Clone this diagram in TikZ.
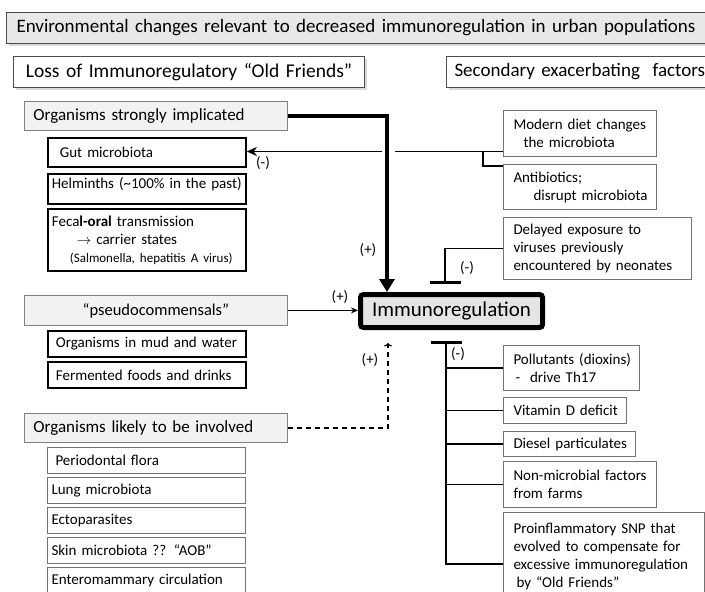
\documentclass[tikz,border=0pt]{standalone}
\usepackage{fontspec}
\setmainfont{Carlito}
\usetikzlibrary{arrows.meta,shadows}
\begin{document}
\hyphenpenalty=10000
\exhyphenpenalty=10000
\begin{tikzpicture}[x=1pt,y=-1pt,
  base/.style={anchor=north west, inner ysep=0pt, align=left, font=\fontsize{15}{18}\selectfont},
  thickbox/.style={base, draw=black, line width=1.8pt, fill=white},
  thinbox/.style={base, draw=black!55, line width=1pt, fill=white},
  graybox/.style={base, draw=black!50, line width=0.8pt, fill=black!5, font=\fontsize{17}{20}\selectfont},
  headbox/.style={base, draw=black!70, line width=1pt, font=\fontsize{19}{22}\selectfont,
    drop shadow={shadow xshift=2pt, shadow yshift=-2pt, opacity=0.3}},
  conn/.style={line width=1.4pt},
  lbl/.style={font=\fontsize{15}{18}\selectfont, inner sep=0pt},
]
\useasboundingbox (0,0) rectangle (705,592);

% headers
\node[headbox, fill=black!9, minimum width=740pt, minimum height=31pt, inner xsep=10pt, text width=720pt] (title) at (6,12)
  {Environmental changes relevant to decreased immunoregulation in urban populations};
\node[headbox, fill=white, align=center, font=\fontsize{19.5}{22}\selectfont, minimum width=351pt, minimum height=31pt, inner xsep=6pt, text width=339pt] (loss) at (13,56)
  {Loss of Immunoregulatory “Old Friends”};
\node[headbox, fill=white, minimum width=300pt, minimum height=31pt, inner xsep=8pt, text width=284pt] (second) at (446,56)
  {Secondary exacerbating~~factors};

% left column
\node[graybox, minimum width=263pt, minimum height=29pt, inner xsep=9pt, text width=245pt] (strong) at (24,101)
  {Organisms strongly implicated};
\node[thickbox, minimum width=198pt, minimum height=29pt, inner xsep=12pt, text width=174pt] (gut) at (47,137)
  {Gut microbiota};
\node[thickbox, minimum width=198pt, minimum height=30pt, inner xsep=4pt, text width=190pt, text height=11pt, text depth=11pt] (helm) at (47,173)
  {Helminths (\textasciitilde100\% in the past)};
\node[thickbox, minimum width=198pt, minimum height=62pt, inner xsep=4pt, text width=190pt] (fecal) at (47,208)
  {Feca\textbf{l-oral} transmission\\
   \hspace*{25pt}$\rightarrow$ carrier states\\
   {\fontsize{13}{18}\selectfont\hspace*{18pt}(Salmonella, hepatitis A virus)}};

\node[graybox, align=center, font=\fontsize{16.5}{20}\selectfont, minimum width=263pt, minimum height=30pt, inner xsep=6pt, text width=251pt] (pseudo) at (24,295)
  {“pseudocommensals”};
\node[thickbox, minimum width=198pt, minimum height=26pt, inner xsep=8pt, text width=182pt] (mud) at (47,330)
  {Organisms in mud and water};
\node[thickbox, minimum width=198pt, minimum height=26pt, inner xsep=8pt, text width=182pt] (ferm) at (47,361)
  {Fermented foods and drinks};

\node[graybox, minimum width=263pt, minimum height=29pt, inner xsep=9pt, text width=245pt] (likely) at (24,413)
  {Organisms likely to be involved};
\node[thinbox, minimum width=198pt, minimum height=26pt, inner xsep=8pt, text width=182pt] (perio) at (47,447)
  {Periodontal flora};
\node[thinbox, minimum width=198pt, minimum height=26pt, inner xsep=4pt, text width=190pt] (lung) at (47,477)
  {Lung microbiota};
\node[thinbox, minimum width=198pt, minimum height=26pt, inner xsep=4pt, text width=190pt] (ecto) at (47,507)
  {Ectoparasites};
\node[thinbox, minimum width=198pt, minimum height=26pt, inner xsep=4pt, text width=190pt] (skin) at (47,537)
  {Skin microbiota ?? “AOB”};
\node[thinbox, minimum width=198pt, minimum height=26pt, inner xsep=4pt, text width=190pt] (entero) at (47,567)
  {Enteromammary circulation};

% centre
\node[draw=black, line width=5pt, rounded corners=3pt, fill=black!10, minimum width=182pt, minimum height=33pt,
  font=\fontsize{21}{24}\selectfont, drop shadow={shadow xshift=2pt, shadow yshift=-2pt, opacity=0.3}] (immuno) at (451.5,311)
  {Immunoregulation};

% right column
\node[thinbox, minimum width=153pt, minimum height=46pt, inner xsep=10pt, text width=133pt] (diet) at (503,110)
  {Modern diet changes\\\hspace*{10pt}the microbiota};
\node[thinbox, minimum width=153pt, minimum height=45pt, inner xsep=10pt, text width=133pt] (anti) at (503,164)
  {Antibiotics;\\\hspace*{20pt}disrupt~microbiota};
\node[thinbox, minimum width=188pt, minimum height=62pt, inner xsep=10pt, text width=168pt] (delay) at (503,217)
  {Delayed exposure to\\viruses previously\\encountered~by~neonates};
\node[thinbox, minimum width=136pt, minimum height=45pt, inner xsep=10pt, text width=116pt] (poll) at (503,345)
  {Pollutants~(dioxins)\\\hspace*{2pt}-~~drive~Th17};
\node[thinbox, minimum width=123pt, minimum height=26pt, inner xsep=10pt, text width=103pt] (vitd) at (503,397)
  {Vitamin~D~deficit};
\node[thinbox, minimum width=132pt, minimum height=25pt, inner xsep=10pt, text width=112pt] (diesel) at (503,431)
  {Diesel~particulates};
\node[thinbox, minimum width=153pt, minimum height=46pt, inner xsep=10pt, text width=133pt] (nonmic) at (503,461)
  {Non-microbial~factors\\from farms};
\node[thinbox, minimum width=201pt, minimum height=88pt, inner xsep=10pt, text width=181pt] (proinf) at (503,512)
  {Proinflammatory SNP that\\evolved to compensate for\\excessive~immunoregulation\\\hspace*{3pt}by “Old Friends”};

% connectors
\coordinate (gapL) at (382,151.5);
\coordinate (gapR) at (395,151.5);
\coordinate (brk) at (483,151.5);
\coordinate (bar1) at (445,284);
\coordinate (bar2) at (446,341);
\coordinate (dtip) at (388,343);

\draw[line width=3.5pt, -{Triangle[length=13pt,width=15pt]}] (strong.east) -| (immuno.north -| 387,0);
\draw[line width=1.8pt, -{Stealth[length=10pt,width=9pt,inset=3pt]}] (gapL) -- (gapL -| gut.east);
\draw[conn] (gapR) -- (gapR -| diet.west);
\draw[conn] (brk) |- (anti.west |- 0,166);
\draw[conn, -{Bar[width=31pt,line width=2.6pt]}] (delay.west) -| (bar1);
\draw[conn, -{Bar[width=31pt,line width=3pt]}] (proinf.west |- 0,564) -| (bar2);
\foreach \n in {poll,vitd,diesel,nonmic} \draw[conn] (\n.west) -- (\n.west -| bar2);
\draw[line width=1.2pt, -{Stealth[length=7pt,width=6pt]}] (pseudo.east) -- (pseudo.east -| immuno.west);
\draw[line width=1.2pt, dash pattern=on 5pt off 4pt, -{To[length=3.5pt,width=8pt]}] (likely.east) -| (dtip);

% labels
\node[lbl] (pA) at (368,250) {(+)};
\node[lbl] (mA) at (263,163) {(-)};
\node[lbl] (pB) at (340,297) {(+)};
\node[lbl] (mB) at (467,268) {(-)};
\node[lbl] (mC) at (458,354) {(-)};
\node[lbl] (pC) at (370,360) {(+)};
\end{tikzpicture}
\end{document}
